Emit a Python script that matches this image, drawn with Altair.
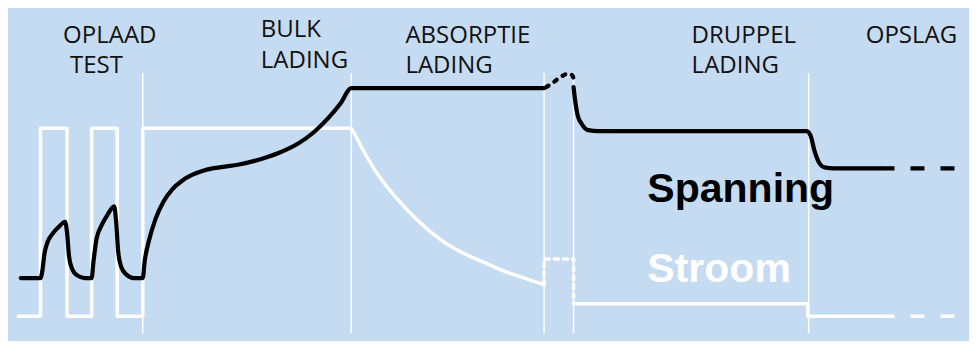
import altair as alt
import pandas as pd

# ---- data (picture coordinates: x to the right, y downward) ----
phase_x = [137, 349, 545, 575, 814]

label_text = ["OPLAAD", "TEST", "BULK", "LADING", "ABSORPTIE", "LADING", "DRUPPEL", "LADING", "OPSLAG"]
label_x = [56, 63, 257, 257, 404, 404, 695, 695, 872]
label_y = [37, 68, 30, 63, 37, 68, 37, 68, 37]

# voltage (Spanning)
volt1_x = [13, 33, 35, 37, 40, 45, 52, 58, 60, 62, 65, 70, 78, 85, 87, 90, 95, 101, 108, 110, 112, 115, 120, 128,
           137, 139, 143, 150, 158, 167, 177, 187, 200, 215, 235, 255, 275, 295, 310, 325, 338, 349, 545]
volt1_y = [283, 283, 275, 258, 246, 237, 229, 224, 235, 260, 273, 280, 283, 283, 265, 242, 228, 217, 208, 225, 255, 271, 279, 283,
           283, 265, 245, 221, 203, 190, 181, 175, 170, 167, 164, 159, 152, 142, 131, 116, 100, 84, 84]
volt_dot_x = [547, 553, 561, 569, 573, 575, 575]
volt_dot_y = [83, 79, 73, 69, 70, 74, 80]
volt2_x = [575, 577, 579, 583, 590, 600, 812, 816, 820, 824, 830, 840, 887]
volt2_y = [83, 100, 112, 121, 128, 129, 129, 134, 150, 161, 167, 168, 168]
volt_dash_x = [887, 977]
volt_dash_y = [168, 168]

# current (Stroom)
cur_step_x = [9, 33, 33, 60, 60, 85, 85, 111, 111, 137, 137, 349]
cur_step_y = [323, 323, 126, 126, 323, 323, 126, 126, 323, 323, 126, 126]
cur_decay_x = [349, 353, 360, 370, 385, 400, 420, 440, 463, 485, 505, 525, 545]
cur_decay_y = [126, 133, 147, 165, 187, 205, 226, 243, 257, 267, 276, 283, 290]
cur_dot_x = [545, 545, 575, 575]
cur_dot_y = [290, 263, 263, 310]
cur2_x = [575, 813, 813, 887]
cur2_y = [310, 310, 323, 323]
cur_dash_x = [887, 977]
cur_dash_y = [323, 323]

W, H = 961, 333
BG = "#C5DBF1"

xs = alt.Scale(domain=[0, 977], nice=False, zero=False)
ys = alt.Scale(domain=[0, 349], nice=False, zero=False, reverse=True)


def df(xv, yv):
    return pd.DataFrame({"x": xv, "y": yv, "o": list(range(len(xv)))})


def line(xv, yv, color, width, interp="linear", dash=None, cap="round"):
    kw = dict(color=color, strokeWidth=width, interpolate=interp, strokeCap=cap, strokeJoin="round")
    if dash:
        kw["strokeDash"] = dash
    return alt.Chart(df(xv, yv)).mark_line(**kw).encode(
        x=alt.X("x:Q", scale=xs, axis=None),
        y=alt.Y("y:Q", scale=ys, axis=None),
        order="o:Q",
    )


rules = alt.Chart(pd.DataFrame({"x": phase_x, "y": [68] * 5, "y2": [341] * 5})).mark_rule(
    color="white", strokeWidth=1.5
).encode(
    x=alt.X("x:Q", scale=xs, axis=None),
    y=alt.Y("y:Q", scale=ys, axis=None),
    y2="y2:Q",
)

white = "#FFFFFF"
black = "#000000"

layers = [
    rules,
    line(cur_step_x, cur_step_y, white, 3.5, cap="butt"),
    line(cur_decay_x, cur_decay_y, white, 3.5, interp="monotone"),
    line(cur_dot_x, cur_dot_y, white, 3.5, dash=[4, 5]),
    line(cur2_x, cur2_y, white, 3.5, cap="butt"),
    line(cur_dash_x, cur_dash_y, white, 3.5, dash=[14, 16], cap="butt"),
    line(volt1_x, volt1_y, black, 4.2, interp="monotone"),
    line(volt_dot_x, volt_dot_y, black, 4.2, interp="monotone", dash=[3, 7]),
    line(volt2_x, volt2_y, black, 4.2, interp="monotone"),
    line(volt_dash_x, volt_dash_y, black, 4.2, dash=[14, 16], cap="butt"),
]

labels = alt.Chart(pd.DataFrame({"x": label_x, "y": label_y, "t": label_text})).mark_text(
    align="left", baseline="alphabetic", font="Open Sans", fontSize=24, color="#111111"
).encode(
    x=alt.X("x:Q", scale=xs, axis=None),
    y=alt.Y("y:Q", scale=ys, axis=None),
    text="t:N",
)

legend_df = pd.DataFrame({"x": [650, 650], "y": [203, 287], "t": ["Spanning", "Stroom"], "c": ["black", "white"]})
legend_text = alt.Chart(legend_df).mark_text(
    align="left", baseline="alphabetic", font="Liberation Sans", fontSize=41, fontWeight="bold"
).encode(
    x=alt.X("x:Q", scale=xs, axis=None),
    y=alt.Y("y:Q", scale=ys, axis=None),
    text="t:N",
    color=alt.Color("c:N", scale=alt.Scale(domain=["black", "white"], range=[black, white]), legend=None),
)

chart = alt.layer(*layers, labels, legend_text).properties(
    width=W, height=H, background=BG, padding=0, autosize=alt.AutoSizeParams(type="none")
).configure_view(stroke=None)

chart.save("out.html", embed_options={"renderer": "svg", "actions": False})
